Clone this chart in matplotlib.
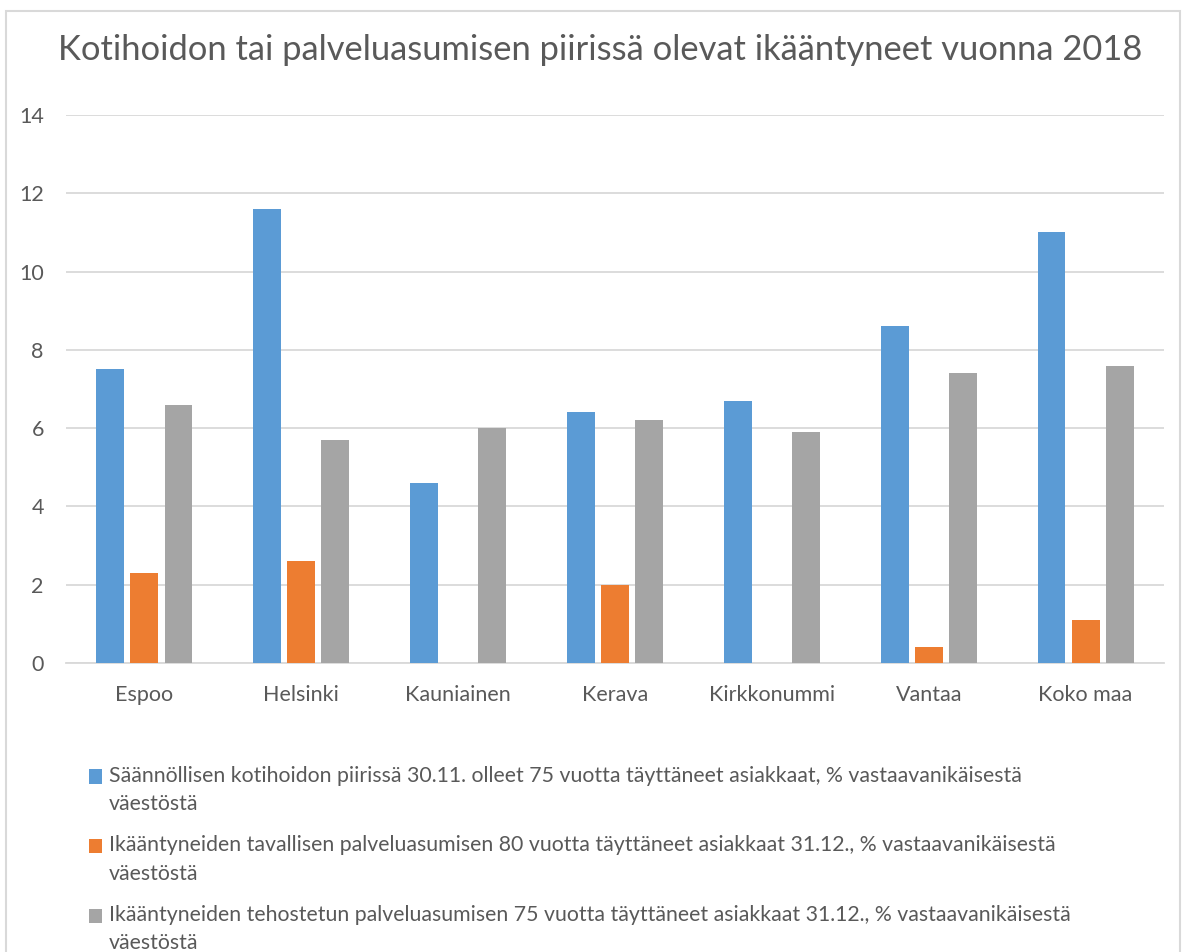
import numpy as np
import matplotlib
matplotlib.use("Agg")
import matplotlib.pyplot as plt
from matplotlib.patches import Rectangle
from matplotlib.container import BarContainer
from matplotlib.legend_handler import HandlerPatch

# data
kunnat = ['Espoo', 'Helsinki', 'Kauniainen', 'Kerava', 'Kirkkonummi',
          'Vantaa', 'Koko maa']
kotihoito = [7.5, 11.6, 4.6, 6.4, 6.7, 8.6, 11.0]
tavallinen = [2.3, 2.6, 0.0, 2.0, 0.0, 0.4, 1.1]
tehostettu = [6.6, 5.7, 6.0, 6.2, 5.9, 7.4, 7.6]
series_labels = [
    'Säännöllisen kotihoidon piirissä 30.11. olleet 75 vuotta täyttäneet '
    'asiakkaat, % vastaavanikäisestä\nväestöstä',
    'Ikääntyneiden tavallisen palveluasumisen 80 vuotta täyttäneet '
    'asiakkaat 31.12., % vastaavanikäisestä\nväestöstä',
    'Ikääntyneiden tehostetun palveluasumisen 75 vuotta täyttäneet '
    'asiakkaat 31.12., % vastaavanikäisestä\nväestöstä',
]
title = 'Kotihoidon tai palveluasumisen piirissä olevat ikääntyneet vuonna 2018'
yticks = [0, 2, 4, 6, 8, 10, 12, 14]

colors = ['#5b9bd5', '#ed7d31', '#a5a5a5']
txt = '#595959'
grid = '#d9d9d9'

plt.rcParams['font.family'] = ['Lato', 'DejaVu Sans']

fig = plt.figure(figsize=(11.86, 9.52), dpi=100)
W, H = 1186, 952

# outer chart border
fig.patches.append(Rectangle((6 / W, -0.01), (1180 - 6) / W, 1 - 11 / H + 0.01,
                             transform=fig.transFigure, fill=False,
                             edgecolor='#d9d9d9', lw=1.5))

ax = fig.add_axes([66 / W, 1 - 663 / H, (1164 - 66) / W, (663 - 115) / H])

x = np.arange(len(kunnat))
width = 0.178
offs = [-0.217, 0, 0.217]
handles = []
for vals, off, c in zip([kotihoito, tavallinen, tehostettu], offs, colors):
    b = ax.bar(x + off, vals, width, color=c, zorder=3)
    handles.append(b)

ax.set_xlim(-0.5, len(kunnat) - 0.5)
ax.set_ylim(0, 14)
ax.set_yticks(yticks)
ax.set_xticks(x)
ax.set_xticklabels(kunnat)
ax.yaxis.grid(True, color=grid, lw=1.3, zorder=0)
for s in ['top', 'right', 'left']:
    ax.spines[s].set_visible(False)
ax.spines['bottom'].set_color(grid)
ax.spines['bottom'].set_linewidth(1.3)
ax.tick_params(axis='both', length=0, labelsize=15.5, colors=txt)
ax.tick_params(axis='x', pad=16)
ax.tick_params(axis='y', pad=16)

fig.text(600 / W, 1 - 50 / H, title, ha='center', va='center',
         fontsize=24.8, color=txt)


def top_square(legend, orig_handle, xdescent, ydescent, width, height,
               fontsize):
    # keep the square level with the first text line
    return Rectangle((-xdescent, -ydescent + 10), width, height)


def first_child(legend_handle, orig_handle):
    legend_handle.update_from(orig_handle.patches[0])


leg = fig.legend(handles, series_labels, loc='upper left',
                 bbox_to_anchor=(80 / W, 1 - 757 / H), frameon=False,
                 fontsize=15.3, handlelength=0.65, handleheight=0.65,
                 handletextpad=0.3, labelspacing=0.99, borderaxespad=0,
                 handler_map={BarContainer:
                              HandlerPatch(patch_func=top_square,
                                           update_func=first_child)})
for t in leg.get_texts():
    t.set_color(txt)
    t.set_linespacing(1.54)

fig.savefig('out.png', dpi=100)
